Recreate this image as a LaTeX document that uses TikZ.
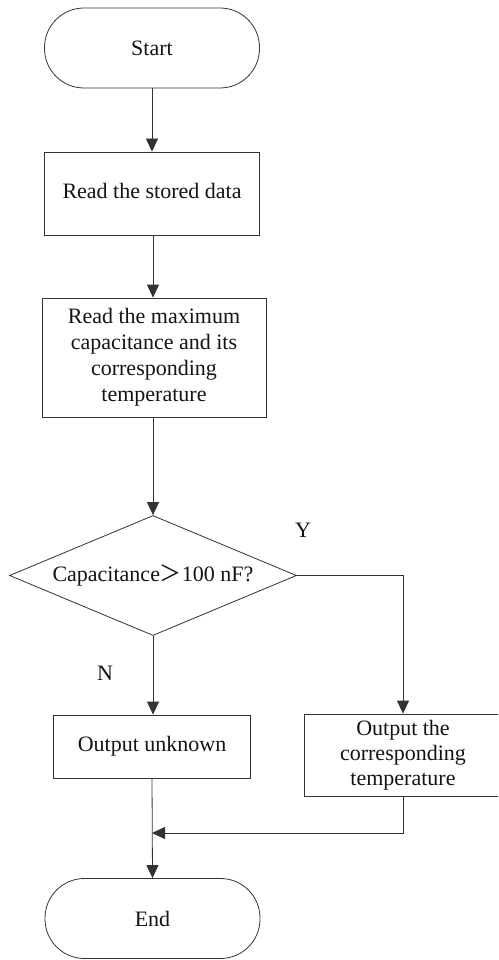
\documentclass[tikz,border=0pt]{standalone}
\usepackage{fontspec}
\setmainfont{Liberation Serif}
\newfontfamily\cjk{Noto Sans CJK SC}
\usetikzlibrary{arrows.meta,shapes.geometric}

\tikzset{
  flowline/.style={draw=black!80, line width=0.8pt},
  flowarrow/.style={flowline, -{Triangle[length=13pt,width=12pt]}},
  basetext/.style={font=\fontsize{22}{26}\selectfont, text=black!92, align=center, inner sep=0pt},
  terminal/.style={basetext, flowline, rectangle, rounded corners=39.5pt,
                   minimum width=215pt, minimum height=80pt},
  procbox/.style={basetext, flowline, rectangle},
  decision/.style={basetext, flowline, diamond, aspect=2.39,
                   minimum width=287pt, minimum height=120pt},
  branchlabel/.style={basetext}
}

\begin{document}
\begin{tikzpicture}[x=1pt, y=-1pt]
  \clip (0,0) rectangle (498,960);
  \fill[white] (0,0) rectangle (498,960);

  % main column
  \node[terminal] (start) at (152,48) {Start};
  \node[procbox, minimum width=215pt, minimum height=83pt] (read) at (152,193.5)
    {\raisebox{6pt}{Read the stored data}};
  \node[procbox, minimum width=224pt, minimum height=119pt] (readmax) at (154,357.5)
    {Read the maximum\\capacitance and its\\corresponding\\temperature};
  \node[decision] (test) at (153,575.5) {Capacitance{\cjk ＞}100 nF?};

  % branches
  \node[procbox, minimum width=197pt, minimum height=63pt] (unknown) at (152,746.5) {Output unknown};
  \node[procbox, minimum width=198pt, minimum height=82pt,
        font=\fontsize{22}{25}\selectfont] (outT) at (403,755)
    {Output the\\corresponding\\temperature};
  \node[terminal] (stop) at (152.5,918.5) {End};

  \node[branchlabel] (ylab) at (303,530) {Y};
  \node[branchlabel] (nlab) at (105,673) {N};

  \coordinate (merge) at (152,833);

  % connectors
  \draw[flowarrow] (start.south) -- (start.south |- read.north);
  \draw[flowarrow] (read.south -| test.north) -- (readmax.north -| test.north);
  \draw[flowarrow] (readmax.south -| test.north) -- (test.north);
  \draw[flowarrow] (test.south) -- (test.south |- unknown.north);
  \draw[flowarrow] (test.east) -| (outT.north);
  \draw[flowarrow] (unknown.south) -- (stop.north);
  \draw[flowarrow] (outT.south) |- (merge);
\end{tikzpicture}
\end{document}
